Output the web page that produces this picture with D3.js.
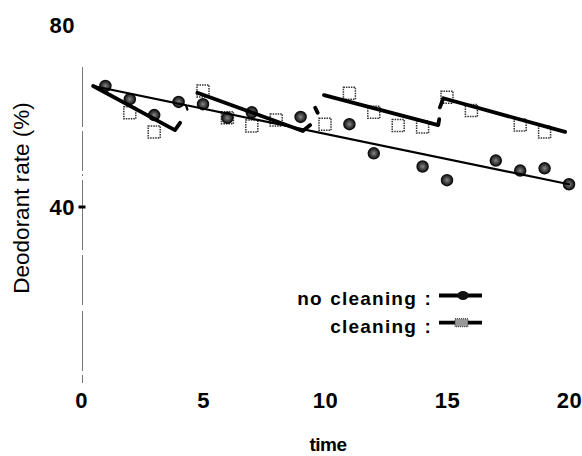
<!DOCTYPE html>
<html>
<head>
<meta charset="utf-8">
<script src="https://cdn.jsdelivr.net/npm/d3@7"></script>
<style>
  body { margin: 0; background: #fff; }
  svg { display: block; font-family: "Liberation Sans", Arial, sans-serif; }
  .tick__label { font-weight: bold; font-size: 22px; letter-spacing: 0.5px; fill: #000; }
  .legend__label { font-weight: bold; font-size: 19px; letter-spacing: 1.2px; word-spacing: 1px; }
</style>
</head>
<body>
<svg id="chart" width="582" height="456"></svg>
<script>

// no cleaning (circles)
var time_no = [1, 2, 3, 4, 5, 6, 7, 9, 11, 12, 14, 15, 17, 18, 19, 20];
var rate_no = [66.6, 63.7, 60.2, 63.1, 62.6, 59.6, 60.8, 59.8, 58.2, 51.8, 48.9, 45.9, 50.2, 48.0, 48.5, 45.0];

// cleaning (squares)
var time_clean = [2, 3, 5, 6, 7, 8, 10, 11, 12, 13, 14, 15, 16, 18, 19];
var rate_clean = [60.7, 56.5, 65.5, 59.6, 57.8, 59.1, 58.2, 65.0, 60.8, 57.9, 57.6, 64.1, 61.2, 58.0, 56.5];

// fitted lines, null = break in the line
var trend_no = [[0.5, 66.6], [4.3, 62.4], [4.36, 61.4], null, [4.38, 62.3], [20, 45.0]];
var trend_clean = [
  [0.5, 66.6], [3.85, 56.9], [4.06, 58.5], null,
  [4.77, 65.1], [9.09, 56.7], [9.39, 58.0], null,
  [9.6, 61.8], [9.7, 60.7], null,
  [9.96, 64.6], [14.64, 58.0], [14.68, 59.3], null,
  [14.71, 61.9], [14.85, 63.9], [19.84, 56.5]
];

var x_ticks = [0, 5, 10, 15, 20];
var y_labels = [80, 40];
var y_marks = [40];

var svg = d3.select("#chart");

var x = d3.scaleLinear().domain([0, 20]).range([81, 569]);
var y = d3.scaleLinear().domain([0, 80]).range([389, 25]);

var axis_x = x(0) + 1.5;

// faint vertical axis (scanned look)
svg.append("line")
  .attr("x1", axis_x).attr("x2", axis_x)
  .attr("y1", 67).attr("y2", 383)
  .attr("stroke", "#777")
  .attr("stroke-width", 1)
  .attr("stroke-dasharray", "60,4,40,3,2,4,70,5,50,6");

svg.selectAll(".y-mark")
  .data(y_marks)
  .enter().append("line")
  .attr("class", "y-mark")
  .attr("x1", axis_x - 4).attr("x2", axis_x + 3)
  .attr("y1", function(d) { return y(d); })
  .attr("y2", function(d) { return y(d); })
  .attr("stroke", "#000")
  .attr("stroke-width", 3);

svg.selectAll(".y-label")
  .data(y_labels)
  .enter().append("text")
  .attr("class", "tick__label")
  .attr("x", 75)
  .attr("y", function(d) { return y(d); })
  .attr("dy", "0.36em")
  .attr("text-anchor", "end")
  .text(function(d) { return d; });

// x axis labels only
var gx = svg.append("g")
  .attr("transform", "translate(0,392)")
  .call(d3.axisBottom(x).tickValues(x_ticks).tickSize(0).tickPadding(0));
gx.select(".domain").remove();
gx.selectAll("text")
  .attr("class", "tick__label")
  .attr("dy", "0.72em")
  .attr("font-family", null)
  .attr("font-size", null);

svg.append("text")
  .attr("x", 328)
  .attr("y", 451)
  .attr("text-anchor", "middle")
  .attr("font-weight", "bold")
  .attr("font-size", 19)
  .attr("letter-spacing", "-0.5px")
  .text("time");

svg.append("text")
  .attr("transform", "translate(29,198) rotate(-90)")
  .attr("text-anchor", "middle")
  .attr("font-size", 22.5)
  .text("Deodorant rate (%)");

// markers
svg.selectAll(".sq")
  .data(time_clean)
  .enter().append("rect")
  .attr("class", "sq")
  .attr("x", function(d) { return x(d) - 6; })
  .attr("y", function(d, i) { return y(rate_clean[i]) - 6; })
  .attr("width", 12).attr("height", 12)
  .attr("fill", "#fff")
  .attr("stroke", "#333")
  .attr("stroke-width", 1.5)
  .attr("stroke-dasharray", "1.5,1");

var grad = svg.append("defs").append("radialGradient").attr("id", "dot-fill");
grad.append("stop").attr("offset", "0%").attr("stop-color", "#888");
grad.append("stop").attr("offset", "55%").attr("stop-color", "#444");
grad.append("stop").attr("offset", "100%").attr("stop-color", "#1a1a1a");

svg.selectAll(".dot")
  .data(time_no)
  .enter().append("circle")
  .attr("class", "dot")
  .attr("cx", function(d) { return x(d); })
  .attr("cy", function(d, i) { return y(rate_no[i]); })
  .attr("r", 5.5)
  .attr("fill", "url(#dot-fill)")
  .attr("stroke", "#111")
  .attr("stroke-width", 1.5);

// lines
var line = d3.line()
  .defined(function(d) { return d !== null; })
  .x(function(d) { return x(d[0]); })
  .y(function(d) { return y(d[1]); });

svg.append("path")
  .datum(trend_no)
  .attr("d", line)
  .attr("fill", "none")
  .attr("stroke", "#000")
  .attr("stroke-width", 2.2)
  .attr("stroke-linecap", "round");

svg.append("path")
  .datum(trend_clean)
  .attr("d", line)
  .attr("fill", "none")
  .attr("stroke", "#000")
  .attr("stroke-width", 3.8)
  .attr("stroke-linecap", "round")
  .attr("stroke-linejoin", "round");

// legend
var legend = [
  {label: "no cleaning :", ly: 305, sy: 295.5, mark: "circle"},
  {label: "cleaning :", ly: 333, sy: 322.7, mark: "rect"}
];

var lg = svg.selectAll(".legend")
  .data(legend)
  .enter().append("g")
  .attr("class", "legend");

lg.append("text")
  .attr("class", "legend__label")
  .attr("x", 432)
  .attr("y", function(d) { return d.ly; })
  .attr("text-anchor", "end")
  .text(function(d) { return d.label; });

lg.append("line")
  .attr("x1", 439).attr("x2", 482)
  .attr("y1", function(d) { return d.sy; })
  .attr("y2", function(d) { return d.sy; })
  .attr("stroke", "#000")
  .attr("stroke-width", 3.8);

lg.each(function(d) {
  var g = d3.select(this);
  if (d.mark == "circle") {
    g.append("ellipse")
      .attr("cx", 463).attr("cy", d.sy)
      .attr("rx", 5.5).attr("ry", 4.5)
      .attr("fill", "#111");
  } else {
    g.append("rect")
      .attr("x", 455).attr("y", d.sy - 4)
      .attr("width", 13).attr("height", 8)
      .attr("fill", "#999")
      .attr("stroke", "#333")
      .attr("stroke-width", 1)
      .attr("stroke-dasharray", "1,1");
  }
});

</script>
</body>
</html>
